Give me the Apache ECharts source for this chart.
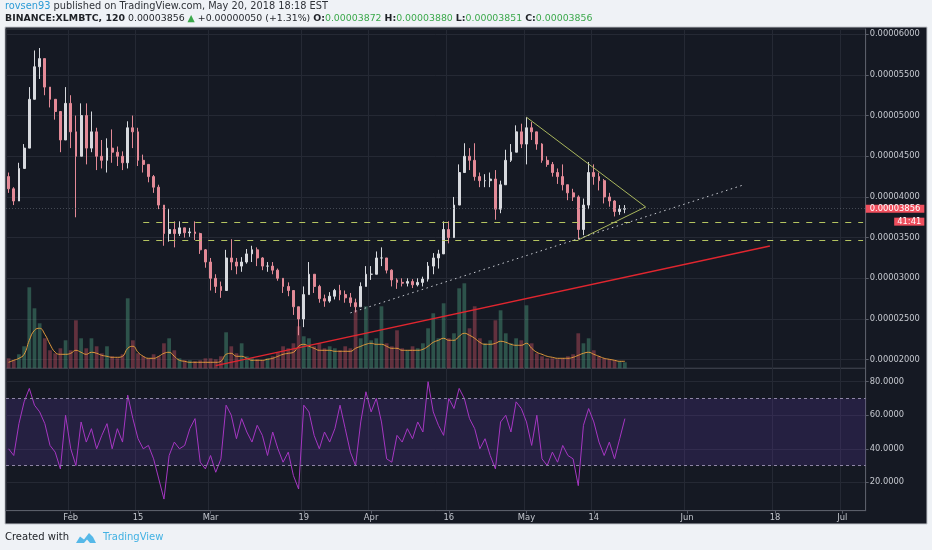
<!DOCTYPE html>
<html>
<head>
<meta charset="utf-8">
<script src="https://cdn.jsdelivr.net/npm/echarts@6/dist/echarts.min.js"></script>
<style>
  html, body { margin: 0; padding: 0; background: #eff2f6; }
  #chart { width: 932px; height: 550px; }
</style>
</head>
<body>
<div id="chart"></div>
<script>
// daily candles, prices in satoshi (1e-8 BTC)
// Binance was offline on Feb 9 2018, so that day has no bar on the time scale
var categories = [];
for (var d = new Date(Date.UTC(2018, 0, 20)); d <= new Date(Date.UTC(2018, 6, 5)); d.setUTCDate(d.getUTCDate() + 1)) {
    var s = d.toISOString().slice(0, 10);
    if (s !== '2018-02-09') categories.push(s);
}

var tickDates = ['2018-02-01', '2018-02-15', '2018-03-01', '2018-03-19', '2018-04-01', '2018-04-16',
                 '2018-05-01', '2018-05-14', '2018-06-01', '2018-06-18', '2018-07-01'];
var tickNames = ['Feb', '15', 'Mar', '19', 'Apr', '16', 'May', '14', 'Jun', '18', 'Jul'];
var priceTicks = [2000, 2500, 3000, 3500, 4000, 4500, 5000, 5500, 6000];
var rsiTicks = [20, 40, 60, 80];

var firstOpen = 4250;
var closes = [
    4100, 3950, 4350, 4600, 5200, 5600, 5700, 5350, 5200, 5050,
    4700, 5150, 4800, 4500, 5000, 4600, 4800, 4500, 4450, 4600,
    4550, 4500, 4420, 4850, 4800, 4450, 4400, 4250, 4120, 3900,
    3550, 3600, 3550, 3620, 3560, 3570, 3550, 3350, 3200, 3000,
    2900, 2850, 3250, 3200, 3150, 3200, 3300, 3350, 3250, 3150,
    3150, 3100, 3000, 2900, 2850, 2650, 2500, 2800, 3050, 2900,
    2750, 2720, 2780, 2850, 2800, 2760, 2700, 2650, 2900, 3050,
    3050, 3250, 3250, 3100, 2980, 2950, 2940, 2960, 2920, 2950,
    2990, 3150, 3250, 3300, 3600, 3500, 3900, 4300, 4500, 4450,
    4250, 4200, 4200, 4220, 3850, 4150, 4450, 4550, 4800, 4650,
    4850, 4800, 4650, 4450, 4400, 4300, 4250, 4150, 4050, 4000,
    3600, 3900, 4300, 4250, 4200, 4000, 3950, 3820, 3850, 3856
];
var highs = [
    4300, 4120, 4420, 4650, 5350, 5800, 5830, 5700, 5350, 5200,
    5050, 5350, 5250, 5000, 5150, 5150, 5050, 4850, 4700, 4720,
    4830, 4620, 4560, 4930, 5000, 4850, 4520, 4400, 4270, 4150,
    3900, 3850, 3700, 3700, 3620, 3620, 3700, 3560, 3360, 3250,
    3050, 2960, 3350, 3480, 3250, 3260, 3360, 3400, 3380, 3260,
    3200, 3200, 3120, 3000, 2950, 2850, 2650, 2900, 3200, 3050,
    2920, 2800, 2830, 2870, 2920, 2850, 2820, 2750, 2950, 3150,
    3150, 3330, 3380, 3250, 3110, 3000, 3000, 3000, 2990, 3000,
    3020, 3200, 3310, 3350, 3700, 3700, 4000, 4400, 4660, 4600,
    4660, 4300, 4280, 4300, 4330, 4200, 4580, 4650, 4880, 4900,
    4980, 4920, 4800, 4660, 4500, 4430, 4350, 4400, 4150, 4100,
    4020, 3980, 4430, 4400, 4300, 4220, 4050, 3960, 3900, 3900
];
var lows = [
    4050, 3900, 3950, 4350, 4600, 5200, 5450, 5250, 5100, 4950,
    4550, 4700, 4600, 3750, 4500, 4400, 4550, 4330, 4350, 4300,
    4420, 4380, 4330, 4350, 4600, 4380, 4300, 4180, 4050, 3850,
    3400, 3450, 3380, 3520, 3500, 3510, 3470, 3300, 3130, 2850,
    2820, 2760, 2850, 3100, 3050, 3080, 3180, 3200, 3150, 3100,
    3080, 3050, 2970, 2820, 2780, 2550, 2300, 2400, 2800, 2820,
    2700, 2650, 2700, 2740, 2730, 2700, 2650, 2580, 2650, 2900,
    2980, 3050, 3150, 3060, 2900, 2870, 2900, 2900, 2880, 2900,
    2900, 2960, 3050, 3120, 3300, 3430, 3500, 3900, 4300, 4330,
    4200, 4120, 4120, 4120, 3720, 3800, 4150, 4430, 4550, 4600,
    4400, 4700, 4580, 4420, 4370, 4250, 4160, 4080, 3960, 3950,
    3480, 3530, 3850, 4150, 4080, 3920, 3880, 3760, 3780, 3800
];
// volume, relative units
var volumes = [
    10, 8, 14, 22, 81, 60, 45, 30, 18, 15,
    20, 28, 18, 48, 30, 20, 30, 22, 15, 22,
    12, 10, 14, 70, 28, 15, 12, 10, 14, 12,
    25, 30, 18, 10, 8, 8, 7, 8, 10, 10,
    9, 12, 36, 22, 15, 25, 12, 10, 9, 8,
    10, 12, 16, 22, 20, 25, 42, 32, 30, 22,
    25, 20, 22, 20, 18, 22, 20, 58, 30, 62,
    28, 30, 62, 25, 22, 38, 20, 18, 22, 20,
    25, 40, 55, 30, 65, 30, 35, 80, 85, 40,
    62, 30, 25, 28, 48, 58, 35, 25, 30, 28,
    63, 25, 15, 12, 10, 10, 9, 10, 12, 14,
    35, 25, 30, 18, 12, 10, 9, 8, 7, 6
];
var volumeMA = [
    6, 8, 10, 14, 28, 38, 40, 34, 24, 16,
    14, 14, 15, 18, 16, 14, 16, 15, 13, 12,
    11, 11, 12, 20, 22, 16, 12, 10, 10, 12,
    15, 16, 12, 8, 7, 6, 6, 6, 6, 6,
    6, 7, 14, 15, 12, 12, 10, 8, 8, 8,
    9, 10, 12, 14, 15, 16, 22, 24, 22, 20,
    18, 18, 18, 17, 17, 17, 17, 20, 22, 24,
    25, 24, 24, 22, 20, 20, 18, 18, 18, 18,
    19, 22, 26, 28, 30, 28, 28, 32, 35, 33,
    30, 26, 24, 24, 25, 27, 26, 24, 23, 23,
    25, 20, 16, 14, 12, 11, 10, 10, 10, 11,
    13, 15, 16, 14, 12, 10, 9, 8, 7, 7
];
var rsi = [
    40, 36, 55, 68, 76, 66, 62, 55, 42, 38,
    28, 60, 40, 30, 56, 44, 52, 40, 48, 55,
    40, 52, 44, 72, 58, 46, 40, 42, 34, 22,
    10, 36, 44, 40, 42, 52, 58, 32, 28, 36,
    26, 34, 66, 60, 46, 58, 50, 44, 54, 48,
    36, 50, 40, 32, 38, 24, 16, 66, 62, 48,
    40, 50, 44, 52, 66, 52, 38, 30, 56, 74,
    62, 70, 56, 34, 32, 48, 44, 52, 46, 56,
    50, 80, 62, 54, 48, 70, 64, 76, 70, 58,
    52, 40, 46, 36, 28, 56, 60, 50, 68, 64,
    56, 42, 60, 34, 30, 38, 32, 42, 36, 34,
    18, 54, 64, 56, 44, 36, 44, 34, 46, 58
];

// drawings on the chart: [bar index, price]
var supportLevels = [3690, 3470];
var supportStart = 26;
var triangleTop = [[100, 4980], [123, 3877]];
var triangleBottom = [[110, 3471], [123, 3877]];
var dottedTrend = [[66, 2575], [142, 4150]];
var redTrend = [[40, 1927], [147, 3397]];

var lastPrice = 3856;
var header = { change: '+0.00000050 (+1.31%)', o: 3872, h: 3880, l: 3851, c: 3856 };

var FONT = 'DejaVu Sans';
var fmt8 = function (v) { return (v / 1e8).toFixed(8); };

var candles = [];
var volData = [];
for (var i = 0; i < closes.length; i++) {
    var open = i === 0 ? firstOpen : closes[i - 1];
    candles.push([open, closes[i], lows[i], highs[i]]);
    volData.push({
        value: volumes[i],
        itemStyle: { color: closes[i] >= open ? 'rgba(83,170,135,0.4)' : 'rgba(214,84,102,0.4)' }
    });
}

function seg(pts, style) {
    return [
        { coord: [categories[pts[0][0]], pts[0][1]], lineStyle: style },
        { coord: [categories[pts[1][0]], pts[1][1]] }
    ];
}

var drawings = [];
supportLevels.forEach(function (lvl) {
    drawings.push(seg([[supportStart, lvl], [categories.length - 1, lvl]],
        { color: '#b5c460', width: 1.2, type: [6, 7] }));
});
drawings.push(seg(triangleTop, { color: '#a9b65c', width: 1, type: 'solid' }));
drawings.push(seg(triangleBottom, { color: '#a9b65c', width: 1, type: 'solid' }));
drawings.push(seg(dottedTrend, { color: '#c9ccd3', width: 1, type: [1.5, 3.5] }));
drawings.push(seg(redTrend, { color: '#e0262f', width: 1.5, type: 'solid' }));
drawings.push({
    yAxis: lastPrice,
    lineStyle: { color: 'rgba(110,114,125,0.55)', width: 1, type: [1, 2] },
    label: {
        show: true,
        position: 'end',
        distance: 0,
        formatter: '{e| }\n{s| }\n{p|' + fmt8(lastPrice) + '}\n{s| }\n{t|41:41}',
        rich: {
            e: { lineHeight: 10, fontSize: 6, color: 'transparent' },
            s: { lineHeight: 3, fontSize: 2, color: 'transparent' },
            p: { lineHeight: 10, fontSize: 8.4, fontFamily: FONT, color: '#fff', backgroundColor: '#ef4f5e', padding: [0, 4, 0, 4] },
            t: { lineHeight: 10, fontSize: 8.4, fontFamily: FONT, color: '#fff', backgroundColor: '#ef4f5e', padding: [0, 3, 0, 3], align: 'right' }
        }
    }
});

var showTick = function (idx, val) { return tickDates.indexOf(val) >= 0; };
var gridLine = { show: true, interval: showTick, lineStyle: { color: '#252934', width: 1 } };

var L = 6, R = 66.3;
var axisTextColor = '#c4c7ce';

var option = {
    backgroundColor: '#eff2f6',
    animation: false,
    title: [
        {
            left: 5, top: 1, padding: 0,
            text: '{u|rovsen93} published on TradingView.com, May 20, 2018 18:18 EST',
            textStyle: {
                fontFamily: FONT, fontSize: 9.8, fontWeight: 'normal', color: '#2f3238',
                rich: { u: { fontFamily: FONT, fontSize: 9.8, color: '#2c9bd6' } }
            }
        },
        {
            left: 5, top: 14.5, padding: 0,
            text: '{b|BINANCE:XLMBTC, 120} ' + fmt8(lastPrice) + ' {g|\u25B2} ' + header.change +
                  ' {b|O:}{g|' + fmt8(header.o) + '} {b|H:}{g|' + fmt8(header.h) + '} {b|L:}{g|' +
                  fmt8(header.l) + '} {b|C:}{g|' + fmt8(header.c) + '}',
            textStyle: {
                fontFamily: FONT, fontSize: 9.4, fontWeight: 'normal', color: '#1e2126',
                rich: {
                    b: { fontFamily: FONT, fontSize: 9.4, fontWeight: 'bold', color: '#1e2126' },
                    g: { fontFamily: FONT, fontSize: 9.4, color: '#3aa84a' }
                }
            }
        },
        {
            left: 5, top: 532, padding: 0, text: 'Created with',
            textStyle: { fontFamily: FONT, fontSize: 10, fontWeight: 'normal', color: '#1c1f24' }
        },
        {
            left: 103, top: 532, padding: 0, text: 'TradingView',
            textStyle: { fontFamily: FONT, fontSize: 10, fontWeight: 'normal', color: '#43b2e3' }
        }
    ],
    graphic: [
        {
            type: 'rect', z: -100, silent: true,
            shape: { x: 5, y: 27, width: 922, height: 497 },
            style: { fill: '#151923', stroke: '#c4c7cd', lineWidth: 1 }
        },
        {
            type: 'polygon', silent: true,
            shape: { points: [[76, 543], [80, 536.5], [84, 539.5], [89, 533], [93, 537], [96, 543], [90, 543], [87, 539.5], [84, 543]] },
            style: { fill: '#55b8e8' }
        }
    ],
    grid: [
        { left: L, right: R, top: 29, height: 339.3, show: true, borderColor: '#3a3e49', borderWidth: 1, backgroundColor: 'transparent' },
        { left: L, right: R, top: 248.3, height: 120 },
        { left: L, right: R, top: 368.3, height: 142.4, show: true, borderColor: '#3a3e49', borderWidth: 1, backgroundColor: 'transparent' }
    ],
    xAxis: [
        {
            type: 'category', gridIndex: 0, data: categories,
            axisLine: { show: false }, axisTick: { show: false }, axisLabel: { show: false },
            splitLine: gridLine
        },
        {
            type: 'category', gridIndex: 1, data: categories, show: false
        },
        {
            type: 'category', gridIndex: 2, data: categories,
            axisLine: { show: true, lineStyle: { color: '#5a5e69' } },
            axisTick: { show: true, interval: showTick, length: 3, alignWithLabel: true, lineStyle: { color: '#5a5e69' } },
            axisLabel: {
                show: true, interval: showTick, margin: 3,
                fontFamily: FONT, fontSize: 8.4, color: axisTextColor,
                formatter: function (val) { return tickNames[tickDates.indexOf(val)]; }
            },
            splitLine: gridLine
        }
    ],
    yAxis: [
        {
            type: 'value', gridIndex: 0, position: 'right',
            min: 1894, max: 6064,
            axisLine: { show: true, lineStyle: { color: '#5a5e69' } },
            axisTick: { show: true, length: 3, customValues: priceTicks, lineStyle: { color: '#5a5e69' } },
            axisLabel: {
                customValues: priceTicks, margin: 4,
                fontFamily: FONT, fontSize: 8.3, color: axisTextColor,
                formatter: fmt8
            },
            splitLine: { show: true, customValues: priceTicks, lineStyle: { color: '#252934' } }
        },
        {
            type: 'value', gridIndex: 1, min: 0, max: 120, show: false, splitLine: { show: false }
        },
        {
            type: 'value', gridIndex: 2, position: 'right',
            min: 3.07, max: 88,
            axisLine: { show: true, lineStyle: { color: '#5a5e69' } },
            axisTick: { show: true, length: 3, customValues: rsiTicks, lineStyle: { color: '#5a5e69' } },
            axisLabel: {
                customValues: rsiTicks, margin: 4,
                fontFamily: FONT, fontSize: 8.3, color: axisTextColor,
                formatter: function (v) { return v.toFixed(4); }
            },
            splitLine: { show: true, customValues: rsiTicks, lineStyle: { color: '#252934' } }
        }
    ],
    series: [
        {
            name: 'Volume', type: 'bar', xAxisIndex: 1, yAxisIndex: 1,
            data: volData, barWidth: '72%', z: 1, silent: true
        },
        {
            name: 'Volume MA', type: 'line', xAxisIndex: 1, yAxisIndex: 1,
            data: volumeMA, symbol: 'none', smooth: true, z: 1,
            lineStyle: { color: '#e29a3c', width: 1 }, silent: true
        },
        {
            name: 'XLMBTC', type: 'candlestick', xAxisIndex: 0, yAxisIndex: 0,
            data: candles, barWidth: '45%', z: 3,
            itemStyle: {
                color: '#d7d9de', color0: '#e38a97',
                borderColor: '#d7d9de', borderColor0: '#e38a97', borderWidth: 1
            },
            markLine: {
                silent: true, symbol: ['none', 'none'], animation: false,
                label: { show: false },
                data: drawings
            }
        },
        {
            name: 'RSI', type: 'line', xAxisIndex: 2, yAxisIndex: 2,
            data: rsi, symbol: 'none', z: 3,
            lineStyle: { color: '#a536c2', width: 1 },
            markArea: {
                silent: true,
                itemStyle: { color: 'rgba(103,58,183,0.2)' },
                data: [[{ yAxis: 30 }, { yAxis: 70 }]]
            },
            markLine: {
                silent: true, symbol: ['none', 'none'], animation: false,
                label: { show: false },
                lineStyle: { color: '#8f86a6', width: 1, type: [3, 3] },
                data: [{ yAxis: 70 }, { yAxis: 30 }]
            }
        }
    ]
};

var chart = echarts.init(document.getElementById('chart'));
chart.setOption(option);
</script>
</body>
</html>
